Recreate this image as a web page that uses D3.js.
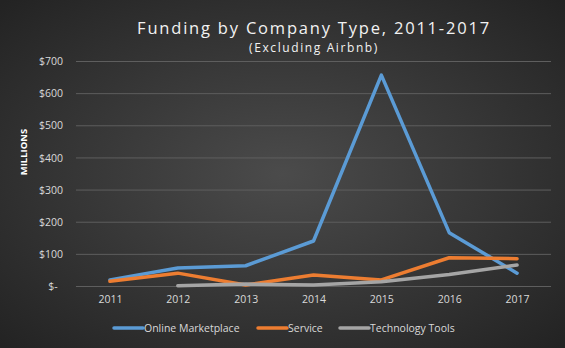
<!DOCTYPE html>
<html><head><meta charset="utf-8">
<script src="https://cdn.jsdelivr.net/npm/d3@7/dist/d3.min.js"></script>
<style>
html,body{margin:0;padding:0;background:#333;}
svg{display:block;}
</style></head>
<body>
<svg id="chart" width="565" height="348"></svg>
<script>
const years = ["2011","2012","2013","2014","2015","2016","2017"];
const onlineMarketplace = [19, 56, 63, 140, 656, 166, 40];
const service = [15, 40, 3, 34, 19, 88, 85];
const technologyTools = [null, 1, 6, 3, 13, 36, 65];
const yTicks = [0, 100, 200, 300, 400, 500, 600, 700];
const yTickLabels = ["$-\u2002", "$100", "$200", "$300", "$400", "$500", "$600", "$700"];
const seriesNames = ["Online Marketplace", "Service", "Technology Tools"];
const seriesColors = ["#5b9bd5", "#ed7d31", "#a5a5a5"];

const svg = d3.select("#chart");
const W = 565, H = 348;
const defs = svg.append("defs");
const grad = defs.append("radialGradient").attr("id","bg")
  .attr("cx","50%").attr("cy","50%").attr("r","70%");
grad.append("stop").attr("offset","0%").attr("stop-color","#4b4b4b");
grad.append("stop").attr("offset","100%").attr("stop-color","#232323");
svg.append("rect").attr("width",W).attr("height",H).attr("fill","url(#bg)");

const plot = {left:76, right:551, top:61, bottom:286};
const x = d3.scalePoint().domain(years).range([plot.left, plot.right]).padding(0.5);
const y = d3.scaleLinear().domain([0,700]).range([plot.bottom, plot.top]);

// gridlines
const yAxis = d3.axisLeft(y).tickValues(yTicks).tickSize(-(plot.right-plot.left))
  .tickFormat((d,i)=>yTickLabels[i]);
const gy = svg.append("g").attr("transform",`translate(${plot.left},0)`).call(yAxis);
gy.select(".domain").remove();
gy.selectAll(".tick line").attr("stroke","#5e5e5e").attr("stroke-width",1);
gy.selectAll(".tick text").attr("fill","#d9d9d9").attr("font-family","Open Sans, sans-serif")
  .attr("font-size","10.5px").attr("dy","0.35em").attr("x",-13);

const xAxis = d3.axisBottom(x).tickSize(0).tickPadding(10);
const gx = svg.append("g").attr("transform",`translate(0,${plot.bottom})`).call(xAxis);
gx.select(".domain").remove();
gx.selectAll(".tick text").attr("fill","#d9d9d9").attr("font-family","Open Sans, sans-serif")
  .attr("font-size","10.5px");

// lines
const allSeries = [onlineMarketplace, service, technologyTools];
const line = d3.line().defined(d=>d.v!==null).x(d=>x(d.k)).y(d=>y(d.v));
allSeries.forEach((s,i)=>{
  const data = years.map((k,j)=>({k, v:s[j]}));
  svg.append("path").datum(data).attr("d",line)
    .attr("fill","none").attr("stroke",seriesColors[i]).attr("stroke-width",3.5)
    .attr("stroke-linejoin","round").attr("stroke-linecap","round");
});

// y axis title
svg.append("text").attr("transform","translate(24,152) rotate(-90)")
  .attr("text-anchor","middle").attr("dy","0.35em").attr("fill","#ffffff")
  .attr("font-family","Open Sans, sans-serif").attr("font-weight","bold")
  .attr("font-size","9.5px").text("MILLIONS");

// title
svg.append("text").attr("x",314).attr("y",34).attr("text-anchor","middle")
  .attr("fill","#f2f2f2").attr("font-family","Open Sans, sans-serif")
  .attr("font-size","16.5px").attr("letter-spacing","1.8px").text("Funding by Company Type, 2011-2017");
svg.append("text").attr("x",314).attr("y",52).attr("text-anchor","middle")
  .attr("fill","#f2f2f2").attr("font-family","Open Sans, sans-serif")
  .attr("font-size","12px").attr("letter-spacing","1.6px").text("(Excluding Airbnb)");

// legend
const legendX = [114, 258, 340];
const lg = svg.append("g");
seriesNames.forEach((n,i)=>{
  const gI = lg.append("g").attr("transform",`translate(${legendX[i]},328)`);
  gI.append("line").attr("x1",0).attr("x2",29).attr("y1",0).attr("y2",0)
    .attr("stroke",seriesColors[i]).attr("stroke-width",3.5).attr("stroke-linecap","round");
  gI.append("text").attr("x",30).attr("y",0).attr("dy","0.35em").attr("fill","#d9d9d9")
    .attr("font-family","Open Sans, sans-serif").attr("font-size","10.5px").text(n);
});
</script>
</body></html>
